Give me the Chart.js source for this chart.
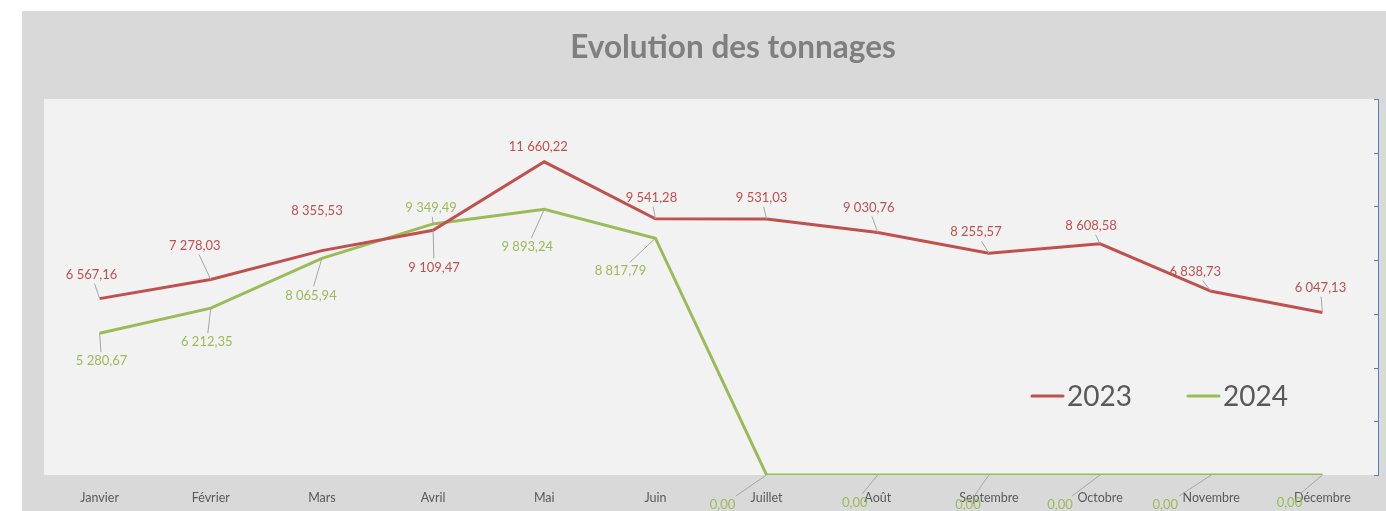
<!DOCTYPE html>
<html lang="fr">
<head>
    <title>Evolution des tonnages</title>
    <meta charset="utf-8">
    <script src="https://cdn.jsdelivr.net/npm/chart.js@4.4.1/dist/chart.umd.min.js"></script>
    <style>
        body { margin: 0; background: #ffffff; }
        canvas { display: block; }
    </style>
</head>
<body>
<canvas id="tonnages-chart" width="1386" height="511"></canvas>
<script>
// data
const months = ["Janvier", "Février", "Mars", "Avril", "Mai", "Juin", "Juillet", "Août", "Septembre", "Octobre", "Novembre", "Décembre"];
const tonnes2023 = [6567.16, 7278.03, 8355.53, 9109.47, 11660.22, 9541.28, 9531.03, 9030.76, 8255.57, 8608.58, 6838.73, 6047.13];
const tonnes2024 = [5280.67, 6212.35, 8065.94, 9349.49, 9893.24, 8817.79, 0, 0, 0, 0, 0, 0];
const seriesNames = ["2023", "2024"];
const axisTicks = [0, 2000, 4000, 6000, 8000, 10000, 12000, 14000];
const chartTitle = "Evolution des tonnages";

// label offsets from the point (dx, dy of text centre, leader line yes/no)
const labelPlace = [
    [[-8,-24,1],[-16,-34,1],[-5,-40,0],[1,37,1],[-6,-15,0],[-4,-21,1],[-5,-21,1],[-9,-25,1],[-13,-21,1],[-9,-18,1],[-16,-20,1],[-2,-25,1]],
    [[2,28,1],[-4,34,1],[-11,37,1],[-2,-16,1],[-17,38,1],[-35,33,1],[-44,30,1],[-23,28,1],[-21,30,1],[-40,30,1],[-46,30,1],[-33,28,1]]
];

function frNumber(v) {
    const parts = v.toFixed(2).split(".");
    parts[0] = parts[0].replace(/\B(?=(\d{3})+(?!\d))/g, " ");
    return parts.join(",");
}

const backgroundPlugin = {
    id: "bg",
    beforeDraw(chart) {
        const ctx = chart.ctx, a = chart.chartArea;
        ctx.save();
        ctx.fillStyle = "#d9d9d9";
        ctx.fillRect(22, 11, chart.width - 22, chart.height - 11);
        ctx.fillStyle = "#f2f2f2";
        ctx.fillRect(a.left, a.top, a.right - a.left, a.bottom - a.top);
        // title, centred like the Excel one
        ctx.fillStyle = "#7f7f7f";
        ctx.font = "bold 31.5px Lato, 'Open Sans', sans-serif";
        ctx.textAlign = "center";
        ctx.textBaseline = "middle";
        ctx.fillText(chartTitle, 733, 48);
        ctx.restore();
    }
};

const rightAxisPlugin = {
    id: "rightAxis",
    afterDatasetsDraw(chart) {
        const ctx = chart.ctx, a = chart.chartArea, y = chart.scales.y;
        ctx.save();
        ctx.strokeStyle = "#4f81bd";
        ctx.lineWidth = 1;
        ctx.beginPath();
        ctx.moveTo(a.right + 0.5, a.top);
        ctx.lineTo(a.right + 0.5, a.bottom);
        axisTicks.forEach(v => {
            const py = Math.round(y.getPixelForValue(v)) + 0.5;
            ctx.moveTo(a.right - 4, py);
            ctx.lineTo(a.right + 1, py);
        });
        ctx.stroke();
        ctx.restore();
    }
};

const labelsPlugin = {
    id: "pointLabels",
    afterDatasetsDraw(chart) {
        const ctx = chart.ctx;
        ctx.save();
        ctx.font = "13px Lato, 'Open Sans', sans-serif";
        ctx.textAlign = "center";
        ctx.textBaseline = "middle";
        chart.data.datasets.forEach((ds, i) => {
            const meta = chart.getDatasetMeta(i);
            meta.data.forEach((pt, j) => {
                const [dx, dy, lead] = labelPlace[i][j];
                const txt = frNumber(ds.data[j]);
                const tx = pt.x + dx, ty = pt.y + dy;
                const w = ctx.measureText(txt).width / 2 + 3, h = 9;
                if (lead) {
                    // leader runs from the point towards the label centre, stops at the box
                    const s = Math.min(w / Math.max(Math.abs(dx), 0.01), h / Math.max(Math.abs(dy), 0.01));
                    if (s < 1) {
                        ctx.strokeStyle = "#a6a6a6";
                        ctx.lineWidth = 1;
                        ctx.beginPath();
                        ctx.moveTo(pt.x, pt.y);
                        ctx.lineTo(tx - dx * s, ty - dy * s);
                        ctx.stroke();
                    }
                }
                ctx.fillStyle = ds.borderColor;
                ctx.fillText(txt, tx, ty);
            });
        });
        ctx.restore();
    }
};

const legendPlugin = {
    id: "insideLegend",
    afterDatasetsDraw(chart) {
        const ctx = chart.ctx, a = chart.chartArea;
        ctx.save();
        ctx.font = "28px Lato, 'Open Sans', sans-serif";
        ctx.textBaseline = "middle";
        let x = a.right - 346;
        const y = a.bottom - 79;
        chart.data.datasets.forEach(ds => {
            ctx.strokeStyle = ds.borderColor;
            ctx.lineWidth = 3;
            ctx.lineCap = "round";
            ctx.beginPath();
            ctx.moveTo(x, y);
            ctx.lineTo(x + 31, y);
            ctx.stroke();
            ctx.fillStyle = "#595959";
            ctx.fillText(ds.label, x + 35, y + 1);
            x += 156;
        });
        ctx.restore();
    }
};

new Chart("tonnages-chart", {
    type: "line",
    data: {
        labels: months,
        datasets: [
            {
                label: seriesNames[0],
                data: tonnes2023,
                borderColor: "#c0504d",
                backgroundColor: "#c0504d",
                borderWidth: 3,
                pointRadius: 0,
                tension: 0
            },
            {
                label: seriesNames[1],
                data: tonnes2024,
                borderColor: "#9bbb59",
                backgroundColor: "#9bbb59",
                borderWidth: 3,
                pointRadius: 0,
                tension: 0
            }
        ]
    },
    options: {
        responsive: false,
        animation: false,
        devicePixelRatio: 1,
        layout: { padding: { left: 44, right: 8, top: 99, bottom: 0 } },
        plugins: {
            legend: { display: false },
            tooltip: { enabled: false },
            title: { display: false }
        },
        scales: {
            x: {
                offset: true,
                grid: { display: false, drawTicks: false },
                border: { display: false },
                ticks: {
                    color: "#595959",
                    font: { family: "Lato, 'Open Sans', sans-serif", size: 12.5 },
                    padding: 15,
                    autoSkip: false,
                    maxRotation: 0
                },
                afterFit(scale) { scale.height = 36; }
            },
            y: {
                display: false,
                min: 0,
                max: 14000
            }
        }
    },
    plugins: [backgroundPlugin, rightAxisPlugin, labelsPlugin, legendPlugin]
});
</script>
</body>
</html>
